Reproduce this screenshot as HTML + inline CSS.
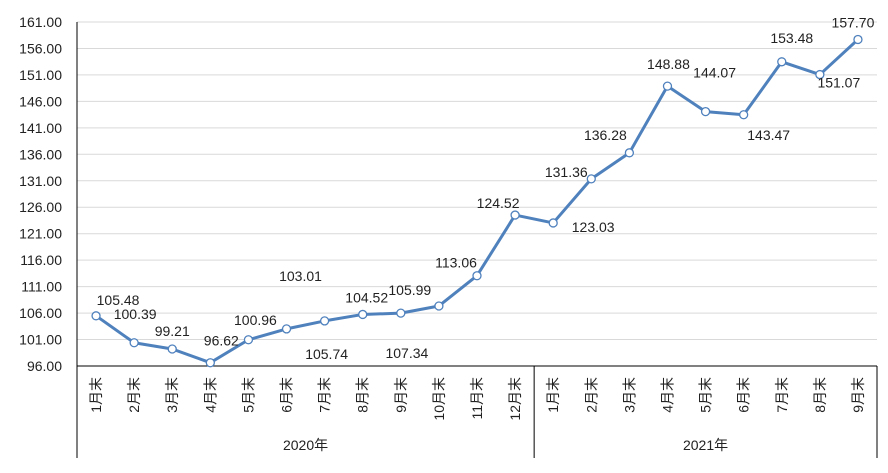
<!DOCTYPE html>
<html><head><meta charset="utf-8"><style>
body{margin:0;background:#fff}
svg{display:block;font-family:"Liberation Sans","Noto Sans CJK SC",sans-serif}
</style></head><body>
<svg width="888" height="473">
<g id="grid"></g><g id="yt"></g><g id="xt"></g><g id="ser"></g><g id="lbl"></g>
</svg>
<script>
const categories=["1月末","2月末","3月末","4月末","5月末","6月末","7月末","8月末","9月末","10月末","11月末","12月末","1月末","2月末","3月末","4月末","5月末","6月末","7月末","8月末","9月末"];
const values=[105.48,100.39,99.21,96.62,100.96,103.01,104.52,105.74,105.99,107.34,113.06,124.52,123.03,131.36,136.28,148.88,144.07,143.47,153.48,151.07,157.70];
const labelTexts=["105.48","100.39","99.21","96.62","100.96","103.01","105.74","104.52","105.99","107.34","113.06","124.52","123.03","131.36","136.28","148.88","144.07","143.47","153.48","151.07","157.70"];
const yTicks=[96,101,106,111,116,121,126,131,136,141,146,151,156,161];
const groups=[{name:"2020年",from:0,to:11},{name:"2021年",from:12,to:20}];
const off=[[22,-16],[1,-29],[0,-18],[11,-22],[7,-20],[14,-53],[2,33],[4,-17],[9,-23],[-32,47],[-21,-13],[-17,-12],[40,4],[-25,-7],[-24,-18],[1,-22],[9,-39],[25,20],[10,-24],[19,8],[-5,-17]];
const NS="http://www.w3.org/2000/svg";
const L=77,R=877,T=22,B=366,ymin=96,ymax=161;
const step=(R-L)/categories.length;
const x=i=>L+step*(i+0.5);
const y=v=>B-(v-ymin)/(ymax-ymin)*(B-T);
function mk(p,t,a,txt){const e=document.createElementNS(NS,t);for(const k in a)e.setAttribute(k,a[k]);if(txt!=null)e.textContent=txt;document.getElementById(p).appendChild(e);return e;}
yTicks.forEach(v=>{
 if(v>ymin){const g=mk('grid','line',{x1:L,x2:R,y1:y(v),y2:y(v),stroke:'#d9d9d9'});
 
 }
 const t=mk('yt','text',{x:62,y:y(v)+5,'text-anchor':'end','font-size':14,fill:'#222'},v.toFixed(2));
 
 
});
const ax=mk('grid','line',{x1:L,x2:R,y1:B,y2:B,stroke:'#000'});


const ya=mk('grid','line',{x1:L,x2:L,y1:T,y2:B,stroke:'#000'});


[L,L+step*12,R].forEach(xx=>{const s=mk('grid','line',{x1:xx,x2:xx,y1:B,y2:458,stroke:'#000'});
 
 });
categories.forEach((c,i)=>{
 const t=mk('xt','text',{x:x(i)+5,y:377,'text-anchor':'end','font-size':14,fill:'#222',transform:`rotate(-90 ${x(i)+5} 377)`},c);
 
 
});
groups.forEach(g=>{const t=mk('xt','text',{x:(x(g.from)+x(g.to))/2,y:450,'text-anchor':'middle','font-size':14,fill:'#222'},g.name);
 
 });
const pl=mk('ser','polyline',{points:values.map((v,i)=>x(i)+','+y(v)).join(' '),fill:'none',stroke:'#4f81bd','stroke-width':3,'stroke-linejoin':'round'});


values.forEach((v,i)=>{
 const c=mk('ser','circle',{cx:x(i),cy:y(v),r:4,fill:'#fff',stroke:'#4f81bd','stroke-width':1.3});
 
 
 const t=mk('lbl','text',{x:x(i)+off[i][0],y:y(v)+off[i][1]+5,'text-anchor':'middle','font-size':14,fill:'#222'},labelTexts[i]);
 
 
});
</script>
</body></html>
